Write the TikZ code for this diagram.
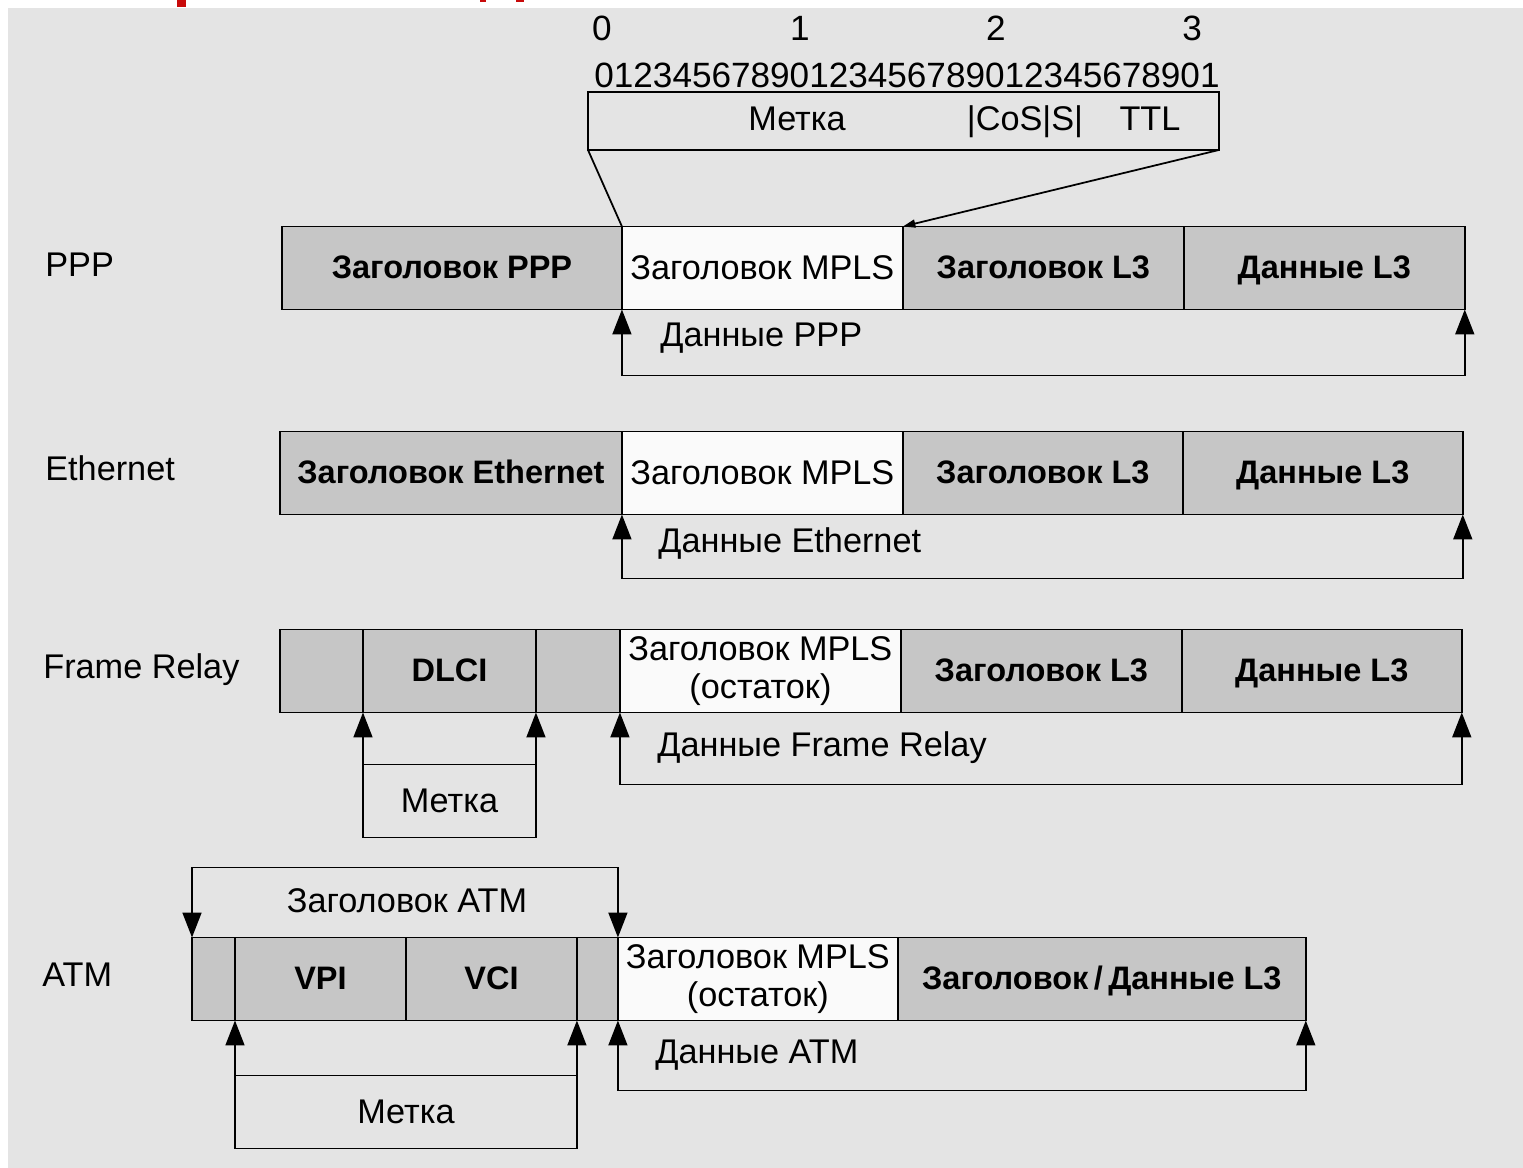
\documentclass[tikz,border=0pt]{standalone}
\usepackage{fontspec}
\setmainfont{Liberation Sans}
\usetikzlibrary{arrows.meta, positioning}

\definecolor{bgcol}{RGB}{228,228,228}
\definecolor{cellgray}{RGB}{198,198,198}
\definecolor{cellwhite}{RGB}{250,250,250}
\definecolor{redfrag}{RGB}{200,10,10}

\begin{document}
\begin{tikzpicture}[
        x=0.02cm, y=-0.02cm,
        every node/.style={inner sep=0pt},
        txt/.style={font=\fontsize{19.5}{22}\selectfont},
        bits/.style={font=\fontsize{20}{22}\selectfont},
        cellbase/.style={draw, line width=1.1pt, anchor=west, outer sep=0pt, minimum height=1.66cm},
        cell/.style={cellbase, fill=cellgray, text height=13pt, text depth=0.5pt,
            font=\fontsize{18.5}{21}\selectfont\bfseries},
        mpls/.style={cellbase, fill=cellwhite, align=center, txt},
        tagbox/.style={draw, line width=1pt, anchor=north west, outer sep=0pt, minimum height=1.46cm, txt},
        databr/.style={{Triangle[length=0.5cm, width=0.38cm]}-{Triangle[length=0.5cm, width=0.38cm]}, line width=1pt},
        uparrow/.style={-{Triangle[length=0.5cm, width=0.38cm]}, line width=1pt}
    ]

    \fill[white] (0,0) rectangle (1523,1168);
    \fill[bgcol] (8,8) rectangle (1523,1168);
    \useasboundingbox (0,0) rectangle (1523,1168);
    \fill[redfrag] (177,0) rectangle (186,7);
    \fill[redfrag] (480,0) rectangle (486,2);
    \fill[redfrag] (516,0) rectangle (524,2);

    % MPLS header fields
    \node[bits] (n0) at (602,28) {0};
    \node[bits] (n1) at (800,28) {1};
    \node[bits] (n2) at (996,28) {2};
    \node[bits] (n3) at (1192,28) {3};
    \node[bits, anchor=west] (digits) at (594,75) {01234567890123456789012345678901};
    \node[draw, line width=1pt, anchor=north west, outer sep=0pt, minimum width=12.62cm, minimum height=1.16cm] (field) at (588,92) {};
    \node[txt, anchor=base] (fLabel) at (797,131) {Метка};
    \node[txt, anchor=base] (fCoS) at (1025,131) {|CoS|S|};
    \node[txt, anchor=base] (fTTL) at (1150,131) {TTL};

    % PPP
    \node[txt, anchor=west] (pppName) at (45,265) {PPP};
    \node[cell, minimum width=6.8cm] (pppHdr) at (282,268) {Заголовок PPP};
    \node[mpls, minimum width=5.62cm, right=0cm of pppHdr] (pppMPLS) {Заголовок MPLS};
    \node[cell, minimum width=5.62cm, right=0cm of pppMPLS] (pppL3) {Заголовок L3};
    \node[cell, minimum width=5.62cm, right=0cm of pppL3] (pppData) {Данные L3};
    \draw[databr] (pppMPLS.south west) -- ++(0,66) -| (pppData.south east);
    \node[txt, anchor=west] (pppLbl) at (660,338) {Данные PPP};

    \draw[line width=1pt] (field.south west) -- (pppMPLS.north west);
    \draw[line width=1pt, -{Triangle[length=0.25cm, width=0.16cm]}] (field.south east) -- (pppMPLS.north east);

    % Ethernet
    \node[txt, anchor=west] (ethName) at (45,468) {Ethernet};
    \node[cell, minimum width=6.84cm] (ethHdr) at (280,473) {Заголовок Ethernet};
    \node[mpls, minimum width=5.62cm, right=0cm of ethHdr] (ethMPLS) {Заголовок MPLS};
    \node[cell, minimum width=5.6cm, right=0cm of ethMPLS] (ethL3) {Заголовок L3};
    \node[cell, minimum width=5.6cm, right=0cm of ethL3] (ethData) {Данные L3};
    \draw[databr] (ethMPLS.south west) -- ++(0,64) -| (ethData.south east);
    \node[txt, anchor=west] (ethLbl) at (658,543) {Данные Ethernet};

    % Frame Relay
    \node[txt, anchor=west] (frName) at (43,670) {Frame Relay};
    \node[cell, minimum width=1.66cm] (frA) at (280,671) {};
    \node[cell, minimum width=3.46cm, right=0cm of frA] (frDLCI) {DLCI};
    \node[cell, minimum width=1.68cm, right=0cm of frDLCI] (frB) {};
    \node[mpls, minimum width=5.62cm, right=0cm of frB] (frMPLS) {Заголовок MPLS\\(остаток)};
    \node[cell, minimum width=5.62cm, right=0cm of frMPLS] (frL3) {Заголовок L3};
    \node[cell, minimum width=5.6cm, right=0cm of frL3] (frData) {Данные L3};
    \draw[databr] (frMPLS.south west) -- ++(0,72) -| (frData.south east);
    \node[txt, anchor=west] (frLbl) at (657,748) {Данные Frame Relay};
    \node[tagbox, minimum width=3.46cm] (frTag) at ([yshift=-1.04cm]frDLCI.south west) {Метка};
    \draw[uparrow] (frTag.north west) -- (frDLCI.south west);
    \draw[uparrow] (frTag.north east) -- (frDLCI.south east);

    % ATM
    \node[txt, anchor=west] (atmName) at (42,975) {ATM};
    \node[cell, minimum width=0.86cm] (atmA) at (192,979) {};
    \node[cell, minimum width=3.42cm, right=0cm of atmA] (atmVPI) {VPI};
    \node[cell, minimum width=3.42cm, right=0cm of atmVPI] (atmVCI) {VCI};
    \node[cell, minimum width=0.82cm, right=0cm of atmVCI] (atmB) {};
    \node[mpls, minimum width=5.6cm, right=0cm of atmB] (atmMPLS) {Заголовок MPLS\\(остаток)};
    \node[cell, minimum width=8.16cm, right=0cm of atmMPLS] (atmL3) {Заголовок\,/\,Данные L3};
    \draw[databr] (atmMPLS.south west) -- ++(0,70) -| (atmL3.south east);
    \node[txt, anchor=west] (atmLbl) at (655,1055) {Данные ATM};
    \draw[databr] (atmA.north west) -- ++(0,-70) -| (atmMPLS.north west);
    \node[txt] (atmHdrLbl) at (407,901) {Заголовок ATM};
    \node[tagbox, minimum width=6.84cm] (atmTag) at ([yshift=-1.1cm]atmVPI.south west) {Метка};
    \draw[uparrow] (atmTag.north west) -- (atmVPI.south west);
    \draw[uparrow] (atmTag.north east) -- (atmVCI.south east);
\end{tikzpicture}
\end{document}
